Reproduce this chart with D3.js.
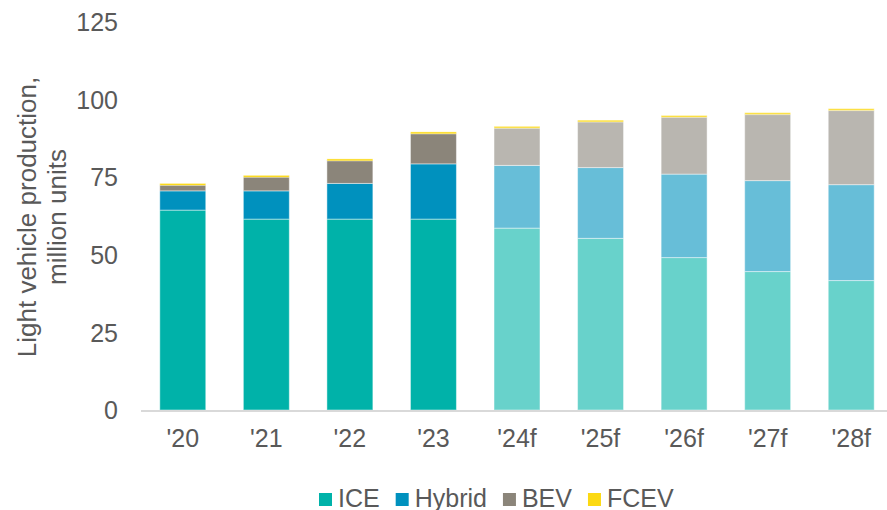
<!DOCTYPE html>
<html>
<head>
<meta charset="utf-8">
<script src="https://cdn.jsdelivr.net/npm/d3@7"></script>
<style>
  body { margin: 0; background: #fff; }
  svg { display: block; font-family: "Liberation Sans", Arial, sans-serif; }
</style>
</head>
<body>
<div id="chart"></div>
<script>
// ----------------------------
// Data (million units)
// ----------------------------
var years = ["'20", "'21", "'22", "'23", "'24f", "'25f", "'26f", "'27f", "'28f"];
var forecast = [false, false, false, false, true, true, true, true, true];
var ice    = [64.4, 61.5, 61.5, 61.5, 58.6, 55.3, 49.1, 44.6, 41.7];
var hybrid = [6.2, 9.1, 11.5, 17.8, 20.2, 22.8, 26.9, 29.3, 30.9];
var bev    = [2.0, 4.6, 7.5, 9.8, 12.1, 14.9, 18.5, 21.5, 24.0];
var fcev   = [0.4, 0.4, 0.4, 0.5, 0.5, 0.4, 0.4, 0.4, 0.5];
var yTicks = [0, 25, 50, 75, 100, 125];

var seriesNames = ["ICE", "Hybrid", "BEV", "FCEV"];
var colors      = ["#00b2a9", "#0091be", "#8b857a", "#fcd912"];
var lightColors = ["#68d2cb", "#67bed8", "#b9b6b0", "#fcdf3c"];

var W = 887, H = 510;
var margin = {left: 141, right: -5, top: 22, bottom: 100};
var fontSize = "25px";

var rows = years.map(function(y, i) {
  return {year: y, forecast: forecast[i], ICE: ice[i], Hybrid: hybrid[i], BEV: bev[i], FCEV: fcev[i]};
});

var svg = d3.select("#chart").append("svg")
  .attr("width", W)
  .attr("height", H);

// ----------------------------
// Scales
// ----------------------------
var x = d3.scaleBand()
  .domain(years)
  .range([margin.left, W - margin.right + 1])
  .paddingInner(0.45)
  .paddingOuter(0.225);

var y = d3.scaleLinear()
  .domain([0, 125])
  .range([410, margin.top]);

var stack = d3.stack().keys(seriesNames)(rows);

// ----------------------------
// Bars
// ----------------------------
svg.append("g").selectAll("g")
  .data(stack)
  .enter()
  .append("g")
  .each(function(layer, k) {
    d3.select(this).selectAll("rect")
      .data(layer)
      .enter()
      .append("rect")
      .attr("x", d => x(d.data.year))
      .attr("width", x.bandwidth())
      .attr("y", d => y(d[1]))
      .attr("height", d => Math.max(y(d[0]) - y(d[1]), k == 3 ? 2 : 0))
      .attr("fill", d => d.data.forecast ? lightColors[k] : colors[k])
      .attr("stroke", "#ffffff")
      .attr("stroke-opacity", 0.45)
      .attr("stroke-width", 1);
  });

// ----------------------------
// Axes
// ----------------------------
svg.append("line")
  .attr("x1", margin.left)
  .attr("x2", W)
  .attr("y1", y(0) + 1)
  .attr("y2", y(0) + 1)
  .attr("stroke", "#d9d9d9")
  .attr("stroke-width", 2);

var yAxis = svg.append("g")
  .attr("transform", "translate(118,0)")
  .call(d3.axisLeft(y).tickValues(yTicks).tickSize(0).tickPadding(0));
yAxis.select(".domain").remove();
yAxis.selectAll("text")
  .attr("fill", "#595959")
  .style("font-size", fontSize)
  .attr("dy", "0.35em");

var xAxis = svg.append("g")
  .attr("transform", "translate(0," + (y(0) + 2) + ")")
  .call(d3.axisBottom(x).tickSize(0).tickPadding(17));
xAxis.select(".domain").remove();
xAxis.selectAll("text")
  .attr("fill", "#595959")
  .style("font-size", fontSize);

// y axis title
var title = svg.append("text")
  .attr("transform", "translate(0,217) rotate(-90)")
  .attr("text-anchor", "middle")
  .attr("fill", "#595959")
  .style("font-size", "26px");
title.append("tspan").attr("x", 0).attr("y", 36).text("Light vehicle production,");
title.append("tspan").attr("x", 0).attr("y", 66).text("million units");

// ----------------------------
// Legend
// ----------------------------
var legend = svg.append("g");
var lx = 319;
seriesNames.forEach(function(name, i) {
  legend.append("rect")
    .attr("x", lx)
    .attr("y", 493)
    .attr("width", 13)
    .attr("height", 13)
    .attr("fill", colors[i]);
  var t = legend.append("text")
    .attr("x", lx + 19)
    .attr("y", 507)
    .attr("fill", "#595959")
    .style("font-size", fontSize)
    .text(name);
  lx += 19 + t.node().getComputedTextLength() + 16;
});
</script>
</body>
</html>
